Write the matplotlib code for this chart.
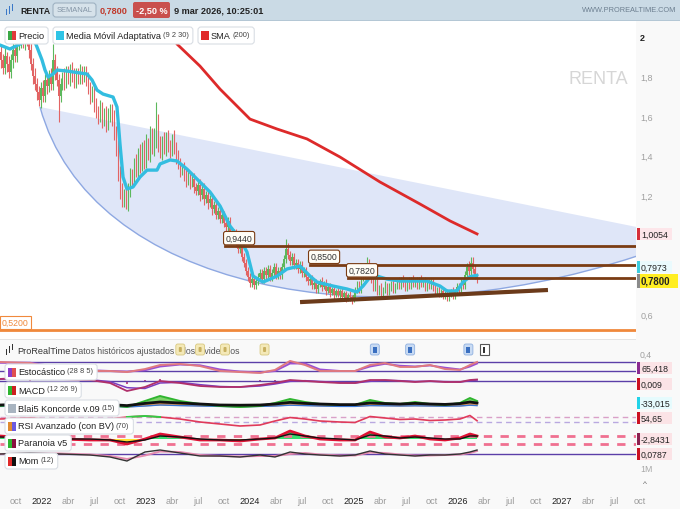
import numpy as np
import pandas as pd
import matplotlib
matplotlib.use("Agg")
import matplotlib.pyplot as plt
from matplotlib.path import Path
from matplotlib.patches import PathPatch, FancyBboxPatch
from matplotlib.transforms import IdentityTransform

plt.rcParams['font.family'] = ['Liberation Sans', 'DejaVu Sans']

# ---------------- data ----------------
first_open = 1.90
closes = [
    1.92, 1.88, 1.84, 1.90, 1.86, 1.82, 1.88, 1.93, 1.90, 1.95,
    1.97, 1.99, 1.96, 2.00, 1.98, 1.93, 1.86, 1.80, 1.76, 1.72,
    1.68, 1.74, 1.70, 1.78, 1.75, 1.80, 1.76, 1.88, 1.82, 1.78,
    1.70, 1.76, 1.80, 1.77, 1.82, 1.79, 1.84, 1.80, 1.77, 1.81,
    1.79, 1.83, 1.80, 1.82, 1.78, 1.74, 1.70, 1.73, 1.66, 1.62,
    1.60, 1.64, 1.58, 1.62, 1.56, 1.60, 1.63, 1.59, 1.52, 1.45,
    1.33, 1.22, 1.17, 1.20, 1.16, 1.22, 1.30, 1.28, 1.36, 1.33,
    1.40, 1.36, 1.44, 1.38, 1.46, 1.42, 1.50, 1.45, 1.48, 1.58,
    1.46, 1.42, 1.47, 1.44, 1.49, 1.45, 1.43, 1.47, 1.44, 1.40,
    1.36, 1.32, 1.34, 1.30, 1.27, 1.30, 1.26, 1.28, 1.24, 1.22,
    1.25, 1.20, 1.23, 1.18, 1.20, 1.16, 1.18, 1.13, 1.15, 1.10,
    1.12, 1.08, 1.10, 1.06, 1.04, 1.07, 1.02, 0.99, 1.01, 0.96,
    0.93, 0.95, 0.89, 0.86, 0.82, 0.79, 0.76, 0.78, 0.75, 0.77,
    0.79, 0.81, 0.78, 0.82, 0.80, 0.83, 0.79, 0.81, 0.84, 0.80,
    0.82, 0.80, 0.84, 0.88, 0.93, 0.90, 0.87, 0.89, 0.85, 0.86,
    0.83, 0.85, 0.81, 0.82, 0.79, 0.77, 0.78, 0.75, 0.76, 0.73,
    0.75, 0.77, 0.74, 0.76, 0.72, 0.74, 0.71, 0.73, 0.70, 0.72,
    0.70, 0.72, 0.69, 0.71, 0.68, 0.70, 0.69, 0.67, 0.70, 0.72,
    0.75, 0.73, 0.78, 0.80, 0.83, 0.86, 0.82, 0.78, 0.74, 0.76,
    0.72, 0.74, 0.71, 0.73, 0.75, 0.72, 0.74, 0.76, 0.73, 0.75,
    0.77, 0.75, 0.78, 0.76, 0.74, 0.77, 0.75, 0.78, 0.76, 0.77,
    0.75, 0.78, 0.76, 0.77, 0.74, 0.76, 0.75, 0.77, 0.74, 0.72,
    0.73, 0.71, 0.72, 0.70, 0.71, 0.69, 0.71, 0.72, 0.70, 0.72,
    0.74, 0.73, 0.76, 0.75, 0.80, 0.84, 0.82, 0.86, 0.83, 0.80, 0.78]
# wicks above / below the body, in hundredths
up_wick = [
    3, 4, 3, 5, 2, 4, 3, 4, 3, 3,  2, 2, 3, 2, 2, 3, 4, 3, 4, 3,
    3, 3, 4, 3, 2, 3, 4, 8, 3, 3,  3, 3, 2, 4, 3, 3, 2, 3, 4, 3,
    3, 3, 2, 3, 3, 4, 3, 2, 3, 3,  3, 4, 3, 2, 3, 4, 3, 3, 4, 3,
    3, 2, 4, 3, 3, 4, 4, 3, 3, 5,  4, 6, 3, 4, 5, 3, 5, 4, 6, 9,
    3, 4, 3, 5, 3, 4, 3, 4, 6, 3,  3, 3, 2, 3, 3, 3, 2, 3, 3, 2,
    2, 3, 2, 3, 2, 3, 2, 3, 2, 2,  2, 2, 2, 2, 2, 2, 2, 2, 2, 2,
    3, 2, 3, 2, 2, 2, 2, 2, 2, 2,  2, 2, 2, 2, 2, 2, 2, 2, 2, 2,
    2, 2, 2, 2, 5, 3, 2, 2, 2, 2,  2, 2, 2, 2, 2, 2, 2, 2, 2, 2,
    2, 1, 2, 1, 2, 1, 2, 1, 2, 1,  2, 1, 2, 1, 1, 1, 2, 1, 2, 2,
    2, 2, 2, 2, 3, 3, 2, 2, 2, 2,  2, 1, 2, 1, 2, 1, 2, 1, 2, 1,
    1, 2, 1, 2, 1, 1, 2, 1, 2, 1,  2, 1, 2, 1, 2, 1, 2, 1, 1, 2,
    1, 2, 1, 2, 1, 2, 1, 1, 2, 1,  2, 2, 2, 2, 2, 2, 3, 3, 3, 2, 1]
dn_wick = [
    3, 4, 3, 3, 4, 3, 3, 4, 3, 3,  2, 3, 2, 3, 3, 4, 3, 4, 3, 4,
    3, 4, 3, 3, 4, 3, 3, 3, 4, 3,  13, 3, 3, 4, 3, 3, 4, 3, 3, 3,
    3, 3, 4, 3, 3, 3, 4, 3, 4, 3,  4, 3, 4, 3, 4, 3, 3, 4, 4, 5,
    6, 4, 3, 3, 3, 4, 3, 4, 3, 4,  4, 5, 4, 5, 4, 4, 5, 4, 5, 4,
    4, 3, 4, 3, 4, 3, 4, 3, 3, 4,  3, 3, 2, 3, 3, 2, 3, 2, 3, 2,
    2, 3, 2, 3, 2, 3, 2, 3, 2, 2,  2, 2, 2, 2, 2, 2, 2, 2, 2, 2,
    2, 2, 2, 2, 2, 2, 2, 2, 2, 2,  2, 2, 2, 2, 2, 2, 2, 2, 2, 2,
    2, 2, 2, 2, 2, 2, 2, 2, 2, 2,  2, 2, 2, 2, 2, 2, 2, 2, 2, 2,
    2, 1, 2, 1, 2, 1, 2, 1, 2, 1,  1, 2, 1, 2, 2, 1, 2, 2, 1, 2,
    1, 2, 2, 1, 2, 2, 2, 2, 2, 2,  2, 2, 2, 2, 2, 2, 2, 2, 2, 2,
    2, 2, 2, 2, 2, 2, 2, 2, 2, 2,  2, 2, 2, 2, 2, 2, 2, 2, 2, 2,
    2, 2, 2, 2, 2, 2, 2, 2, 2, 2,  2, 2, 2, 2, 2, 2, 2, 2, 2, 2, 2]

# adaptive moving average (9 2 30) and SMA(200), as decimal year / price
ma_t = [2021.596, 2021.692, 2021.788, 2021.865, 2021.933, 2021.952, 2022.0, 2022.029,
        2022.058, 2022.106, 2022.144, 2022.240, 2022.433, 2022.481, 2022.529, 2022.587,
        2022.683, 2022.721, 2022.75, 2022.779, 2022.817, 2022.875, 2022.942, 2023.010,
        2023.106, 2023.135, 2023.231, 2023.298, 2023.394, 2023.519, 2023.615, 2023.712,
        2023.808, 2023.904, 2023.971, 2024.029, 2024.125, 2024.260, 2024.356, 2024.481,
        2024.577, 2024.644, 2024.798, 2024.933, 2025.029, 2025.087, 2025.154, 2025.221,
        2025.317, 2025.442, 2025.702, 2025.827, 2025.894, 2025.990, 2026.048, 2026.115,
        2026.183]
ma_v = [1.957, 1.937, 1.962, 1.987, 1.972, 1.947, 1.882, 1.831,
        1.796, 1.811, 1.831, 1.826, 1.811, 1.781, 1.730, 1.710,
        1.695, 1.645, 1.458, 1.292, 1.232, 1.242, 1.292, 1.327,
        1.327, 1.358, 1.378, 1.373, 1.332, 1.267, 1.217, 1.146,
        1.045, 0.980, 0.914, 0.793, 0.763, 0.793, 0.829, 0.844,
        0.793, 0.763, 0.743, 0.728, 0.713, 0.743, 0.788, 0.793,
        0.778, 0.768, 0.768, 0.743, 0.718, 0.718, 0.763, 0.790,
        0.797]
sma_t = [2023.212, 2023.298, 2023.519, 2023.712, 2024.0, 2024.26, 2024.548, 2024.865,
         2025.25, 2025.635, 2025.923, 2026.183]
sma_v = [2.038, 1.962, 1.851, 1.735, 1.584, 1.534, 1.484, 1.393, 1.267, 1.156, 1.071, 1.0054]

# drawings
levels = [0.9440, 0.8500, 0.7820]
level_start = [2023.76, 2024.577, 2024.942]
floor_level = 0.52
support_t = [2024.481, 2026.865]
support_v = [0.662, 0.723]
arc_pts = [(2021.981, 1.645), (2022.462, 0.728), (2025.154, 0.451), (2027.721, 0.894)]
fan_top = (2027.721, 1.040)

last_price, last_ma, last_sma = 0.7800, 0.7973, 1.0054
div_t = [2023.33, 2023.52, 2023.76, 2024.14]
doc_t = [2025.20, 2025.54, 2026.10]
info_t = 2026.25

# indicators, sampled along the same time axis
ind_t = [2021.596, 2021.885, 2022.173, 2022.462, 2022.654, 2022.817, 2022.990, 2023.135,
         2023.327, 2023.519, 2023.712, 2023.904, 2024.096, 2024.240, 2024.385, 2024.529,
         2024.673, 2024.865, 2025.010, 2025.154, 2025.298, 2025.442, 2025.587, 2025.731,
         2025.875, 2026.019, 2026.115, 2026.183]
stoch_k = [80, 73, 33, 20, 20, 13, 33, 60, 67, 53, 20, 13, 7, 27, 87, 60, 20, 20, 20, 60,
           73, 47, 47, 60, 33, 27, 60, 80]
stoch_d = [75, 75, 45, 25, 20, 16, 25, 50, 63, 58, 30, 16, 10, 20, 70, 70, 30, 20, 20, 50,
           68, 55, 50, 57, 42, 30, 50, 70]
macd = [0.012, 0.024, 0.012, 0.006, -0.012, -0.060, -0.036, 0.0, -0.012, -0.030,
        -0.036, -0.036, -0.024, -0.012, 0.006, 0.0, -0.006, -0.012, -0.012, 0.006,
        0.006, 0.0, -0.006, 0.0, -0.006, -0.006, 0.006, 0.009]
macd_sig = [0.010, 0.020, 0.016, 0.008, -0.004, -0.040, -0.045, -0.012, -0.008, -0.022,
            -0.033, -0.036, -0.030, -0.018, -0.002, 0.002, -0.003, -0.009, -0.012, -0.002,
            0.004, 0.002, -0.003, -0.002, -0.004, -0.006, 0.001, 0.006]
kon_green = [-10, 5, 10, 0, -5, -15, 15, 40, 15, 0, -10, -15, -10, 5, 25, 10, 0, -5, -5, 20,
             5, 0, 10, 0, -5, 5, 30, 15]
kon_black = [-5, 0, 5, 0, -3, -8, 3, 10, 5, 0, -5, -6, -5, 0, 8, 3, 0, -3, -3, 5,
             2, 0, 3, 0, -2, 2, 10, 5]
kon_blue = [-12, -10, -8, -10, -12, -15, -10, -5, -8, -10, -12, -14, -12, -10, -6, -8, -10,
            -12, -12, -8, -9, -10, -9, -10, -11, -10, -6, -8]
rsi = [62, 66, 58, 56, 62, 70, 74, 70, 62, 50, 42, 34, 38, 54, 68, 62, 54, 50, 48, 72,
       66, 60, 62, 56, 58, 62, 76, 55]
par = [3, 1, 0, -1, -1, -5, 0, 5, 2, -1, -1, -2, 0, 1, 8, 3, 0, -1, -1, 7,
       2, 1, 3, 0, -1, 1, 5, 3]
par_sig = [2, 1, 0, 0, -1, -3, -1, 3, 2, 0, -1, -1, 0, 1, 5, 3, 1, 0, -1, 4,
           3, 1, 2, 1, 0, 0, 3, 3]
mom = [0, 0.02, 0, -0.02, -0.06, -0.14, 0.04, 0.08, 0.02, -0.04, -0.04, -0.06, -0.02, -0.06,
       0.04, 0, -0.02, -0.04, -0.02, 0.06, 0, -0.02, -0.04, -0.02, -0.02, 0, 0.04, 0.08]
mom_sig = [0, 0.01, 0.01, -0.01, -0.04, -0.10, -0.03, 0.05, 0.04, -0.02, -0.04, -0.05, -0.04,
           -0.04, 0.0, 0.02, -0.01, -0.03, -0.03, 0.03, 0.02, -0.01, -0.03, -0.03, -0.02,
           -0.01, 0.02, 0.06]

tick_pos = np.arange(2021.75, 2027.76, 0.25)
tick_lab = ['oct', '2022', 'abr', 'jul', 'oct', '2023', 'abr', 'jul', 'oct', '2024', 'abr',
            'jul', 'oct', '2025', 'abr', 'jul', 'oct', '2026', 'abr', 'jul', 'oct', '2027',
            'abr', 'jul', 'oct']

# ---------------- layout helpers (pixel based) ----------------
W, H = 680, 510
X0, X1 = 2021.5962, 2027.7115
fig = plt.figure(figsize=(W / 100, H / 100), dpi=100, facecolor='#f9f9f9')
renderer = fig.canvas.get_renderer()


def fbox(x0, y0, x1, y1):
    return [x0 / W, 1 - y1 / H, (x1 - x0) / W, (y1 - y0) / H]


def box(x0, y0, x1, y1, fc, ec='none', lw=0.8, r=3, z=5):
    style = 'round,pad=0,rounding_size=%g' % r if r else 'square,pad=0'
    fig.add_artist(FancyBboxPatch((x0, H - y1), x1 - x0, y1 - y0, boxstyle=style,
                                  fc=fc, ec=ec, lw=lw, transform=IdentityTransform(), zorder=z))


def txt(x, y, s, size=6.6, color='#222', z=6, **kw):
    return fig.text(x / W, 1 - y / H, s, fontsize=size, color=color, va='center', zorder=z, **kw)


def right_edge(t_):
    return t_.get_window_extent(renderer=renderer).x1


# ---------------- price panel ----------------
ax = fig.add_axes(fbox(0, 22, 636, 340))
ax.set_facecolor('white')
ax.set_xlim(X0, X1)
ax.set_ylim(0.4761, 2.0781)
for s in ax.spines.values():
    s.set_visible(False)
ax.set_xticks([])
ax.yaxis.tick_right()
ax.set_yticks([0.6, 1.2, 1.4, 1.6, 1.8, 2.0])
ax.set_yticklabels(['0,6', '1,2', '1,4', '1,6', '1,8', '2'])
ax.tick_params(axis='y', length=0, pad=3, labelsize=6.5, labelcolor='#a0a0a0')
top_lab = ax.get_yticklabels()[-1]
top_lab.set_color('#222')
top_lab.set_fontweight('bold')

# fan / arc drawing
codes = [Path.MOVETO, Path.CURVE4, Path.CURVE4, Path.CURVE4]
ax.add_patch(PathPatch(Path(arc_pts + [fan_top, arc_pts[0]], codes + [Path.LINETO, Path.CLOSEPOLY]),
                       fc='#dfe6f8', ec='none', zorder=1))
ax.add_patch(PathPatch(Path(arc_pts, codes), fc='none', ec='#8ea8e2', lw=1, zorder=2))

# candles
weeks = pd.date_range('2021-08-02', periods=len(closes), freq='7D')
t = weeks.year + (weeks.dayofyear - 1) / 365.25
c = np.array(closes)
o = np.array([first_open] + closes[:-1])
hi = np.maximum(o, c) + np.array(up_wick) / 100
lo = np.minimum(o, c) - np.array(dn_wick) / 100
col = np.where(c >= o, '#5cb85c', '#e26464')
ax.vlines(t, lo, hi, colors=col, lw=0.8, zorder=3)
ax.bar(t, np.abs(c - o), bottom=np.minimum(o, c), width=0.012, color=col, lw=0, zorder=3)

ax.plot(ma_t, ma_v, color='#33bde0', lw=2.4, zorder=4, solid_capstyle='round')
ax.plot(sma_t, sma_v, color='#dd2a2a', lw=2.0, zorder=4)

for lv, st in zip(levels, level_start):
    ax.plot([st, X1], [lv, lv], color='#7a3c14', lw=2, zorder=5)
    ax.annotate(('%.4f' % lv).replace('.', ','), (st, lv), xytext=(0.5, 2.5),
                textcoords='offset points', ha='left', va='bottom', fontsize=6.3,
                color='#333', zorder=6,
                bbox=dict(boxstyle='round,pad=0.25', fc='#fffdf6', ec='#7a3c14', lw=0.8))
ax.plot(support_t, support_v, color='#6b3a1a', lw=3, zorder=5, solid_capstyle='butt')
ax.axhline(floor_level, color='#f0893c', lw=2, zorder=5)
ax.annotate('0,5200', (X0, floor_level), xytext=(1.5, 2.5), textcoords='offset points',
            ha='left', va='bottom', fontsize=6.3, color='#f0893c', zorder=6,
            bbox=dict(boxstyle='square,pad=0.2', fc='white', ec='#f0893c', lw=0.8))
ax.text(0.987, 0.818, 'RENTA', transform=ax.transAxes, ha='right', va='center',
        fontsize=13, color='#d6d6d6', zorder=0)

# separator between price and indicators
box(0, 340, 636, 341, '#e4e4e4', r=0, z=1)

# ---------------- indicator strips ----------------
def strip(y0, y1, lo_, hi_):
    a = fig.add_axes(fbox(0, y0, 636, y1))
    a.set_xlim(X0, X1)
    a.set_ylim(lo_, hi_)
    a.axis('off')
    return a


purple = '#5b3fa8'
s1 = strip(355, 385, -66.7, 133.3)
s1.axhline(80, color=purple, lw=1)
s1.axhline(20, color=purple, lw=1)
s1.plot(ind_t, stoch_d, color='#9b50d2', lw=1.4)
s1.plot(ind_t, stoch_k, color='#e07a80', lw=1.4)

s2 = strip(374, 396, -0.084, 0.048)
s2.axhline(0, color=purple, lw=1)
s2.bar(ind_t, np.array(macd) - np.array(macd_sig), width=0.02, color='#c0508a')
s2.plot(ind_t, macd_sig, color='#7a3cc0', lw=1.1)
s2.plot(ind_t, macd, color='#b0306a', lw=1.3)

s3 = strip(392, 414, -45, 65)
s3.fill_between(ind_t, kon_blue, kon_black, color='#eb9a4e', lw=0)
s3.fill_between(ind_t, kon_black, kon_green, color='#7fd36a', lw=0)
s3.plot(ind_t, kon_blue, color='#3a78d8', lw=1)
s3.plot(ind_t, kon_green, color='#2fb52f', lw=1.4)
s3.plot(ind_t, kon_black, color='#111111', lw=2)

s4 = strip(410, 432, 14, 102)
s4.axhline(70, color='#d9a0c8', lw=1, ls=(0, (4, 3)))
s4.axhline(50, color='#b9a8e0', lw=1, ls=(0, (4, 3)))
rsi_a = np.array(rsi, dtype=float)
s4.plot(ind_t, rsi_a, color='#e03a5a', lw=1.2)
s4.plot(ind_t, np.where(rsi_a >= 68, rsi_a, np.nan), color='#33cc44', lw=1.4)

s5 = strip(428, 450, -10, 12)
s5.axhline(3, color='#f07090', lw=2, ls=(0, (3, 3)))
s5.axhline(-5, color='#f07090', lw=2, ls=(0, (3, 3)))
par_a = np.array(par, dtype=float)
s5.fill_between(ind_t, 0, par_a, where=par_a > 0, interpolate=True, color='#35e070', lw=0)
s5.fill_between(ind_t, 0, par_a, where=par_a < 0, interpolate=True, color='#ffe033', lw=0)
s5.plot(ind_t, par_a, color='#dd1133', lw=2)
s5.plot(ind_t, par_sig, color='#111111', lw=1)

s6 = strip(445, 467, -0.24, 0.2)
s6.axhline(0, color=purple, lw=1)
s6.plot(ind_t, mom_sig, color='#e58aae', lw=1.4)
s6.plot(ind_t, mom, color='#333333', lw=1)

# ---------------- bottom time axis ----------------
axx = fig.add_axes(fbox(0, 482, 680, 494))
axx.set_xlim(X0, X0 + 680 / 104)
axx.patch.set_visible(False)
for s in axx.spines.values():
    s.set_visible(False)
axx.set_yticks([])
axx.set_xticks(tick_pos)
axx.set_xticklabels(tick_lab)
axx.tick_params(axis='x', length=0, pad=2, labelsize=6.6, labelcolor='#9a9a9a')
for lab in axx.get_xticklabels():
    if lab.get_text().isdigit():
        lab.set_color('#222')

# ---------------- header bar ----------------
box(0, 0, 680, 21, '#cadae5', r=0, z=1)
box(0, 21, 680, 22, '#b4c7d5', r=0, z=1)
for xx, y0, y1 in [(6, 10, 16), (9, 7, 15), (12, 5, 12)]:
    box(xx, y0, xx + 1.4, y1, '#3a78c8', r=0, z=6)
txt(20, 11, 'RENTA', size=6.4, weight='bold')
box(53, 4, 96, 18, '#d6e2ea', '#9fb2c2', r=3)
txt(57, 11, 'SEMANAL', size=5.4, color='#8495a6')
txt(100, 11, '0,7800', size=6.6, color='#c0392b', weight='bold')
box(133, 3, 170, 19, '#c9504d', r=2)
txt(136, 11, '-2,50 %', size=6.6, color='white', weight='bold')
txt(174, 11, '9 mar 2026, 10:25:01', size=6.6, weight='bold')
txt(676, 11, 'WWW.PROREALTIME.COM', size=5.3, color='#6d7f90', ha='right')


# legend boxes (main label, small parameter label)
def legend_item(x0, yc, name, params, colors, h=8.5):
    name_t = txt(x0 + 13, yc, name)
    x_end = right_edge(name_t)
    if params:
        par_t = txt(x_end + 2, yc - 1, params, size=5.4, color='#444')
        x_end = right_edge(par_t)
    box(x0, yc - h, x_end + 4, yc + h, 'white', '#d9dee4')
    box(x0 + 3, yc - 4.5, x0 + 7, yc + 4.5, colors[0], r=0, z=7)
    box(x0 + 7, yc - 4.5, x0 + 11, yc + 4.5, colors[1], r=0, z=7)


legend_item(5, 36.5, 'Precio', '', ('#3aa845', '#e03a3a'))
legend_item(53, 36.5, 'Media Móvil Adaptativa', '(9 2 30)', ('#2ec4e6', '#2ec4e6'))
legend_item(198, 36.5, 'SMA', '(200)', ('#e02a2a', '#e02a2a'))

# right side price tags
def price_y(v):
    return H - ax.transData.transform((X1, v))[1]


def tag(yc, s, fc, bar, x1=672, size=6.3, weight='normal', h=6):
    box(637, yc - h, x1, yc + h, fc, r=0, z=5)
    box(637, yc - h, 639.5, yc + h, bar, r=0, z=6)
    txt(641, yc, s, size=size, weight=weight)


tag(price_y(last_sma), '1,0054', '#fde6ea', '#d62f3a')
tag(price_y(last_ma) - 8, '0,7973', '#eafafd', '#3ccde0')
tag(price_y(last_price) + 2, '0,7800', '#ffee22', '#8a8a8a', x1=678, size=7, weight='bold', h=7)
txt(640, 355, '0,4', size=6.3, color='#a0a0a0')

# indicator section header
for xx, y0, y1 in [(6, 350, 356), (9, 347, 354), (12, 345, 351)]:
    box(xx, y0, xx + 1.4, y1, '#333333', r=0, z=6)
txt(17, 351, 'ProRealTime', size=6.6, color='#333')
txt(72, 351, 'Datos históricos ajustados a los dividendos', size=6.3, color='#555')


def icon_x(d):
    return ax.transData.transform((d, 1.0))[0]


for d in div_t:
    xc = icon_x(d)
    box(xc - 4.5, 345, xc + 4.5, 356, '#f4e9b8', '#d8c880', lw=0.6, r=2, z=8)
    box(xc - 1.5, 348, xc + 1.5, 353, '#c8b060', r=1, z=9)
for d in doc_t:
    xc = icon_x(d)
    box(xc - 4.5, 345, xc + 4.5, 356, '#c9dbf3', '#8fb0e0', lw=0.6, r=2, z=8)
    box(xc - 2, 347.5, xc + 2, 353.5, '#3a6fc0', r=0, z=9)
xc = icon_x(info_t)
box(xc - 4.5, 345, xc + 4.5, 356, 'white', '#555555', lw=0.8, r=0, z=8)
box(xc - 0.6, 347.5, xc + 0.6, 353.5, '#333333', r=0, z=9)

# indicator name boxes
ind_labels = [
    (373, 'Estocástico', '(28 8 5)', ('#8a3cc8', '#e05050')),
    (391, 'MACD', '(12 26 9)', ('#2fb52f', '#cc2020')),
    (409, 'Blai5 Koncorde v.09', '(15)', ('#a8b4c0', '#a8b4c0')),
    (427, 'RSI Avanzado (con BV)', '(70)', ('#e08a30', '#6a5ae0')),
    (444, 'Paranoia v5', '', ('#2fb52f', '#8a1040')),
    (462, 'Mom', '(12)', ('#e02a2a', '#111111')),
]
for yc, name, par_txt, icol in ind_labels:
    legend_item(5, yc, name, par_txt, icol, h=8)

# indicator value tags
for yc, s, fc, bar in [(369, '65,418', '#fbe3e6', '#8a2a90'),
                       (385, '0,009', '#fbe3e6', '#cc1122'),
                       (404, '-33,015', '#e6fbfd', '#22d3e8'),
                       (419, '54,65', '#fbe3e6', '#cc1122'),
                       (440, '-2,8431', '#fbe3e6', '#8a2050'),
                       (455, '0,0787', '#fbe3e6', '#cc1122')]:
    tag(yc, s, fc, bar)
txt(640, 470, '1M', size=6.3, color='#a8a8a8')
txt(643, 485, '^', size=6, color='#666')

fig.savefig('out.png', dpi=100, facecolor=fig.get_facecolor())
